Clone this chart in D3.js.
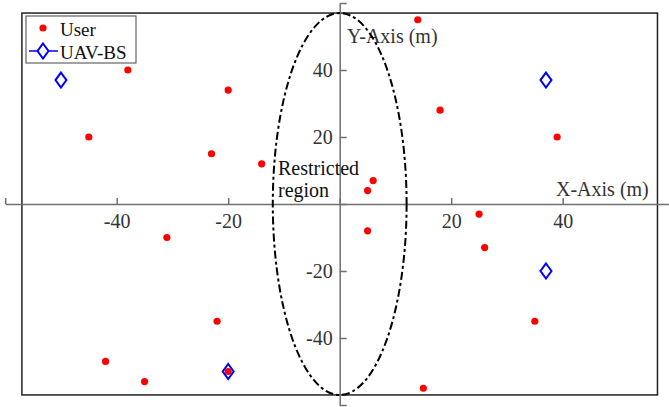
<!DOCTYPE html>
<html>
<head>
<meta charset="utf-8">
<script src="https://cdn.jsdelivr.net/npm/d3@7"></script>
<style>
  html, body { margin: 0; padding: 0; background: #fff; }
  svg { display: block; }
  text { font-family: "Liberation Serif", "Times New Roman", serif; }
</style>
</head>
<body>
<svg id="chart" width="669" height="407"></svg>
<script>
// ---- data ----
const userX = [-38, 14, -20, 18, -45, 39, -23, -14, 6, 5, 25, -31, 5, 26, -22, 35, -42, -35, -20, 15];
const userY = [40, 55, 34, 28, 20, 20, 15, 12, 7, 4, -3, -10, -8, -13, -35, -35, -47, -53, -50, -55];
const uavX = [-50, 37, 37, -20];
const uavY = [37, 37, -20, -50];
const tickValues = [-60, -40, -20, 0, 20, 40, 60];
const tickLabels = ["", "-40", "-20", "", "20", "40", ""];
const axisExtent = [-60, 60];
const frameExtent = [-57, 57];
const regionRadii = [12, 57];
const legendLabels = ["User", "UAV-BS"];
const xTitle = "X-Axis (m)";
const yTitle = "Y-Axis (m)";
const regionLabel = ["Restricted", "region"];

// ---- drawing ----
const svg = d3.select("#chart");
const x = d3.scaleLinear().domain(axisExtent).range([5.2, 674.2]);
const y = d3.scaleLinear().domain(axisExtent).range([405, 3]);
const axisColor = "#707070";
const fs = 20;

// frame
svg.append("rect")
  .attr("x", x(frameExtent[0])).attr("y", y(frameExtent[1]))
  .attr("width", x(frameExtent[1]) - x(frameExtent[0]))
  .attr("height", y(frameExtent[0]) - y(frameExtent[1]))
  .attr("fill", "none").attr("stroke", "#222").attr("stroke-width", 1.5);

// axes through origin
const fmt = d => tickLabels[tickValues.indexOf(d)];
const xAxis = d3.axisBottom(x).tickValues(tickValues).tickFormat(fmt)
  .tickSizeInner(-6).tickSizeOuter(0).tickPadding(10);
const gx = svg.append("g").attr("transform", `translate(0,${y(0)})`).call(xAxis);
const yAxis = d3.axisLeft(y).tickValues(tickValues).tickFormat(fmt)
  .tickSizeInner(-7).tickSizeOuter(0).tickPadding(7);
const gy = svg.append("g").attr("transform", `translate(${x(0)},0)`).call(yAxis);
[gx, gy].forEach(g => {
  g.select(".domain").attr("stroke", axisColor).attr("stroke-width", 1.5);
  g.selectAll(".tick line").attr("stroke", axisColor).attr("stroke-width", 1.5);
  g.selectAll(".tick text").attr("fill", "#333")
    .style("font-family", '"Liberation Serif", serif').style("font-size", fs + "px");
});

// axis titles
svg.append("text").attr("x", 556).attr("y", 196).attr("fill", "#333")
  .style("font-size", fs + "px").text(xTitle);
svg.append("text").attr("x", 347).attr("y", 43).attr("fill", "#333")
  .style("font-size", fs + "px").text(yTitle);

// restricted region ellipse
svg.append("ellipse")
  .attr("cx", x(0)).attr("cy", y(0))
  .attr("rx", x(regionRadii[0]) - x(0)).attr("ry", y(0) - y(regionRadii[1]))
  .attr("fill", "none").attr("stroke", "#000").attr("stroke-width", 2)
  .attr("stroke-dasharray", "8,3,3,3");
svg.append("text").attr("x", 278).attr("y", 175).attr("fill", "#111")
  .style("font-size", fs + "px").text(regionLabel[0]);
svg.append("text").attr("x", 278).attr("y", 197).attr("fill", "#111")
  .style("font-size", fs + "px").text(regionLabel[1]);

// users
svg.append("g").selectAll("circle").data(userX.map((d, i) => [d, userY[i]]))
  .join("circle")
  .attr("cx", d => x(d[0])).attr("cy", d => y(d[1])).attr("r", 3.6)
  .attr("fill", "#ff0000");

// UAV-BS diamonds
const diamond = (cx, cy) => `M${cx},${cy - 7.5}L${cx + 5.5},${cy}L${cx},${cy + 7.5}L${cx - 5.5},${cy}Z`;
svg.append("g").selectAll("path").data(uavX.map((d, i) => [d, uavY[i]]))
  .join("path")
  .attr("d", d => diamond(x(d[0]), y(d[1])))
  .attr("fill", "none").attr("stroke", "#0000ff").attr("stroke-width", 2);

// legend
const lg = svg.append("g");
lg.append("rect").attr("x", 26).attr("y", 16).attr("width", 110).attr("height", 47)
  .attr("fill", "#fff").attr("stroke", "#444").attr("stroke-width", 1);
lg.append("circle").attr("cx", 43).attr("cy", 28).attr("r", 3.6).attr("fill", "#ff0000");
lg.append("text").attr("x", 60).attr("y", 35.5).attr("fill", "#111")
  .style("font-size", "19px").text(legendLabels[0]);
lg.append("line").attr("x1", 29).attr("x2", 58).attr("y1", 51).attr("y2", 51)
  .attr("stroke", "#0000ff").attr("stroke-width", 1.5);
lg.append("path").attr("d", diamond(43, 51))
  .attr("fill", "#fff").attr("stroke", "#0000ff").attr("stroke-width", 2);
lg.append("text").attr("x", 60).attr("y", 58.5).attr("fill", "#111")
  .style("font-size", "19px").text(legendLabels[1]);
</script>
</body>
</html>
